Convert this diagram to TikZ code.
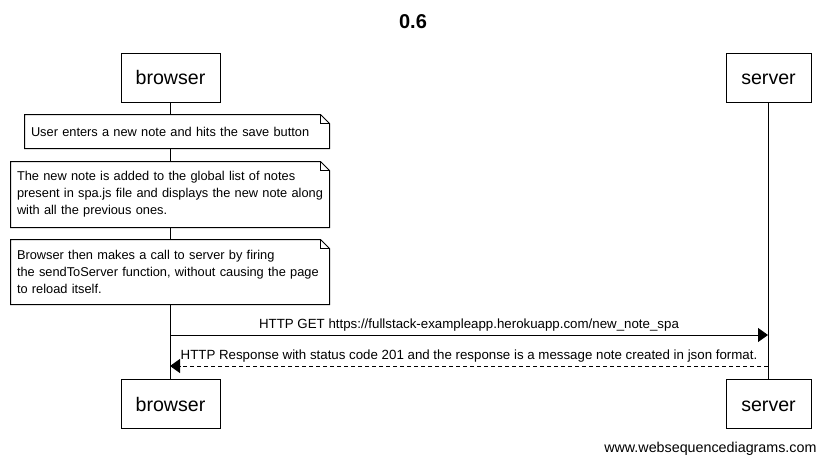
\documentclass[tikz,border=0pt]{standalone}
\usepackage{fontspec}
\setmainfont{Liberation Sans}
\usetikzlibrary{arrows.meta}

\begin{document}
\begin{tikzpicture}[x=1pt,y=-1pt,line width=1pt]
\tikzstyle{every node}+=[inner sep=0pt]
\tikzstyle{actor}=[draw,fill=white,minimum width=99pt,minimum height=49pt,text height=14pt,text depth=0pt,font=\fontsize{19.6}{22}\selectfont]
\tikzstyle{note}=[fill=white,inner xsep=6pt,align=left,font=\fontsize{12.8}{17}\selectfont]
\tikzstyle{msg}=[-{Triangle[length=10pt,width=14pt]}]
\tikzstyle{reply}=[msg,dashed,dash pattern=on 4pt off 3pt]
\tikzstyle{msglabel}=[above=3pt,midway,font=\fontsize{13.3}{15}\selectfont]
\useasboundingbox (0,0) rectangle (826,463);
\draw (413,22) node [font=\bfseries\fontsize{20}{24}\selectfont] (title) {0.6};
% participants
\node [actor] (b1) at (170.5,77.5) {browser};
\node [actor,minimum width=85pt] (s1) at (768.5,77.5) {server};
\node [actor] (b2) at (170.5,404) {browser};
\node [actor,minimum width=85pt] (s2) at (768.5,404) {server};
\draw (b1) -- (b2);
\draw (s1) -- (s2);
% notes
\node [note,text width=292pt,minimum height=33pt] (n1) at (177,131.5) {User enters a new note and hits the save button};
\node [note,text width=306pt,minimum height=65pt] (n2) at (170,194.5) {The new note is added to the global list of notes\\present in spa.js file and displays the new note along\\with all the previous ones.};
\node [note,text width=306pt,minimum height=64pt] (n3) at (170,272) {Browser then makes a call to server by firing\\the sendToServer function, without causing the page\\to reload itself.};
\foreach \n in {n1,n2,n3} {
  \draw (\n.north west) -- ([xshift=-9pt]\n.north east) -- ([yshift=-9pt]\n.north east) -- (\n.south east) -- (\n.south west) -- cycle;
  \draw ([xshift=-9pt]\n.north east) -- ([xshift=-9pt,yshift=-9pt]\n.north east) -- ([yshift=-9pt]\n.north east);
}
% messages
\coordinate (get0) at (170,335);
\coordinate (get1) at (768,335);
\coordinate (res0) at (768,366);
\coordinate (res1) at (170,366);
\draw [msg] (get0) -- (get1) node [msglabel] {HTTP GET https://fullstack-exampleapp.herokuapp.com/new\_note\_spa};
\draw [reply] (res0) -- (res1) node [msglabel] {HTTP Response with status code 201 and the response is a message note created in json format.};
\node [anchor=base east,font=\fontsize{14.3}{16}\selectfont] (site) at (817,452) {www.websequencediagrams.com};
\end{tikzpicture}
\end{document}
